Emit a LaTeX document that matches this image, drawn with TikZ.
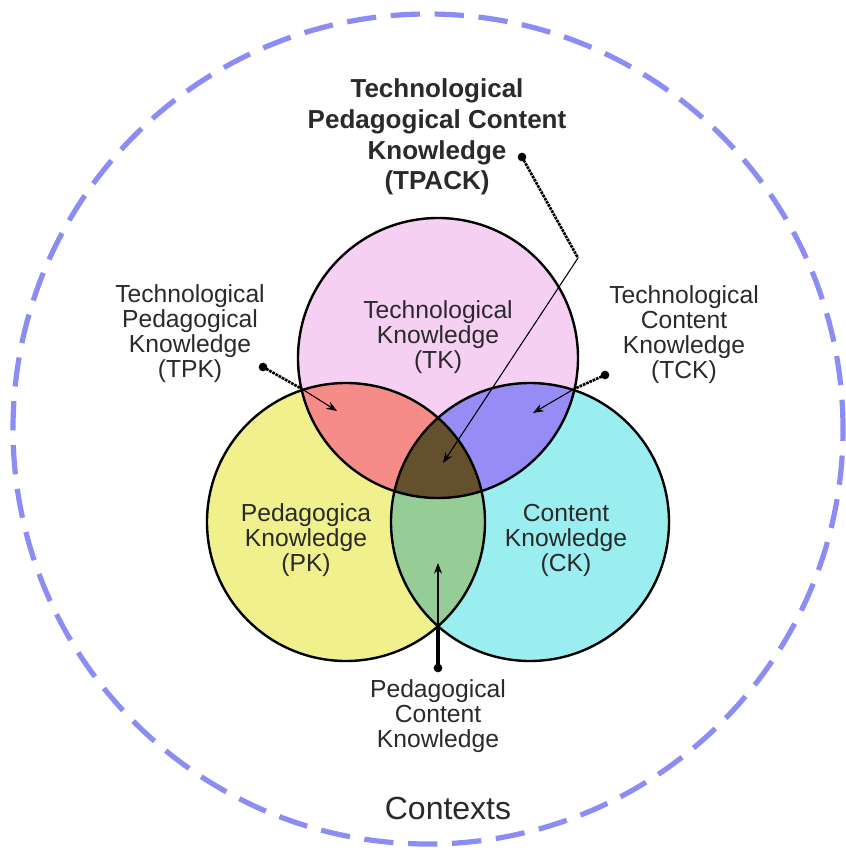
\documentclass[tikz,border=0pt]{standalone}
\usepackage{fontspec}
\setmainfont{Liberation Sans}
\usetikzlibrary{arrows.meta}
\definecolor{tkpink}{HTML}{F5D0F3}
\definecolor{pkyellow}{HTML}{F0F08C}
\definecolor{ckcyan}{HTML}{9BEEF0}
\definecolor{tpred}{HTML}{F58C87}
\definecolor{tcblue}{HTML}{968CF5}
\definecolor{pcgreen}{HTML}{96CD96}
\definecolor{tpcbrown}{HTML}{64502D}
\definecolor{ctxblue}{HTML}{8C8CF5}
\definecolor{txtgray}{HTML}{2A2A2A}
\begin{document}
\begin{tikzpicture}[x=0.75pt,y=-0.75pt,
  circ/.style={draw=black,line width=1.8pt},
  inlbl/.style={align=center,text=txtgray,inner sep=0pt,font=\fontsize{18.5}{18.75}\selectfont},
  outlbl/.style={align=center,text=txtgray,inner sep=0pt,font=\fontsize{18.5}{18.75}\selectfont},
  toplbl/.style={align=center,text=txtgray,inner sep=0pt,font=\fontsize{19.5}{23}\selectfont\bfseries},
  ctxlbl/.style={text=txtgray,inner sep=0pt,font=\fontsize{24}{28}\selectfont},
  dotnode/.style={circle,fill=black,inner sep=0pt,minimum size=6.5pt},
  leader/.style={line width=2pt,dash pattern=on 2pt off 0.7pt},
  pointer/.style={line width=0.8pt,-{Stealth[length=8pt,width=6pt]}},
  stem/.style={line width=3.2pt}
]
\useasboundingbox[fill=white] (0,0) rectangle (846,850);

% outer context circle
\coordinate (ctxc) at (428,429);
\draw[ctxblue,line width=3.9pt,dash pattern=on 22pt off 11pt] (ctxc) circle[radius=311.25pt];

% circle centres
\coordinate (tkc) at (438,358);
\coordinate (pkc) at (346,522);
\coordinate (ckc) at (530,522);

% base fills
\fill[tkpink] (tkc) circle[radius=105pt];
\fill[pkyellow] (pkc) circle[radius=104.25pt];
\fill[ckcyan] (ckc) circle[radius=104.25pt];

% pairwise intersections
\begin{scope}
  \clip (tkc) circle[radius=105pt];
  \fill[tpred] (pkc) circle[radius=104.25pt];
\end{scope}
\begin{scope}
  \clip (tkc) circle[radius=105pt];
  \fill[tcblue] (ckc) circle[radius=104.25pt];
\end{scope}
\begin{scope}
  \clip (pkc) circle[radius=104.25pt];
  \fill[pcgreen] (ckc) circle[radius=104.25pt];
\end{scope}
\begin{scope}
  \clip (tkc) circle[radius=105pt];
  \clip (pkc) circle[radius=104.25pt];
  \fill[tpcbrown] (ckc) circle[radius=104.25pt];
\end{scope}

% outlines
\draw[circ] (tkc) circle[radius=105pt];
\draw[circ] (pkc) circle[radius=104.25pt];
\draw[circ] (ckc) circle[radius=104.25pt];

% circle labels
\node[inlbl] (tk) at (438,337) {Technological\\Knowledge\\(TK)};
\node[inlbl] (pk) at (306,540) {Pedagogica\\Knowledge\\(PK)};
\node[inlbl] (ck) at (566,540) {Content\\Knowledge\\(CK)};

% outside labels
\node[toplbl] (tpack) at (437,137) {Technological\\Pedagogical Content\\Knowledge\\(TPACK)};
\node[outlbl] (tpk) at (190,334) {Technological\\Pedagogical\\Knowledge\\(TPK)};
\node[outlbl] (tck) at (684,335) {Technological\\Content\\Knowledge\\(TCK)};
\node[outlbl] (pck) at (438,716) {Pedagogical\\Content\\Knowledge};
\node[ctxlbl] (ctx) at (448,808) {Contexts};

% connectors
\node[dotnode] (tpackdot) at (522,157) {};
\coordinate (tpackkink) at (578,258);
\coordinate (tpackend) at (443,463);
\draw[leader] (tpackdot.center) -- (tpackkink);
\draw[pointer] (tpackkink) -- (tpackend);

\node[dotnode] (tpkdot) at (263,367) {};
\coordinate (tpkx) at (302,389);
\coordinate (tpkend) at (337,411);
\draw[leader] (tpkdot.center) -- (tpkx);
\draw[pointer] (tpkx) -- (tpkend);

\node[dotnode] (tckdot) at (605,375) {};
\coordinate (tckx) at (574,389);
\coordinate (tckend) at (533,413);
\draw[leader] (tckdot.center) -- (tckx);
\draw[pointer] (tckx) -- (tckend);

\node[dotnode] (pckdot) at (438,668) {};
\coordinate (pckx) at (438,627);
\coordinate (pckend) at (438,563);
\draw[stem] (pckdot.center) -- (pckx);
\draw[pointer] (pckx) -- (pckend);
\end{tikzpicture}
\end{document}
